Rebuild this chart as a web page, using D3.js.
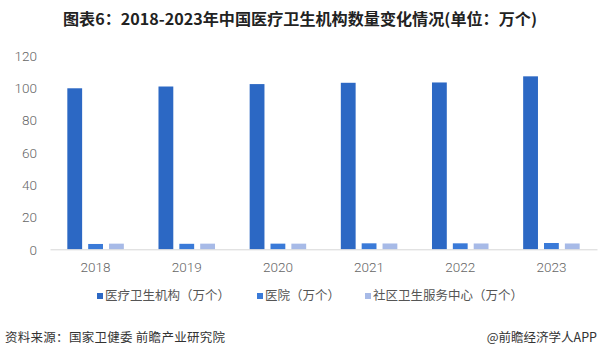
<!DOCTYPE html>
<html><head><meta charset="utf-8">
<script src="https://cdn.jsdelivr.net/npm/d3@7"></script>
<style>
html,body{margin:0;padding:0;background:#fff;}
svg{display:block;}
</style></head>
<body>
<svg id="chart" width="601" height="358"></svg>
<script>
const years = ["2018","2019","2020","2021","2022","2023"];
const seriesNames = ["医疗卫生机构（万个）","医院（万个）","社区卫生服务中心（万个）"];
const institutions = [99.7, 100.8, 102.3, 103.1, 103.3, 107.1];
const hospitals = [3.3, 3.4, 3.5, 3.7, 3.7, 3.9];
const communityCenters = [3.5, 3.5, 3.5, 3.6, 3.6, 3.6];
const yTicks = [0, 20, 40, 60, 80, 100, 120];
const colors = ["#2c68c4", "#3a7ad8", "#a7bae7"];

const svg = d3.select("#chart");
const x0 = d3.scaleBand().domain(years).range([50, 597]).paddingInner(0.38).paddingOuter(0.19);
const x1 = d3.scaleBand().domain(d3.range(3)).range([0, x0.bandwidth()]).paddingInner(0.29);
const y = d3.scaleLinear().domain([0, 120]).range([249.3, 55.5]);

const data = years.map((yr, i) => ({year: yr, vals: [institutions[i], hospitals[i], communityCenters[i]]}));

// title
svg.append("text").attr("x", 300).attr("y", 25).attr("text-anchor", "middle")
  .attr("font-family", "'Noto Sans CJK SC', sans-serif").attr("font-weight", "bold")
  .attr("font-size", 15.5).attr("fill", "#222")
  .attr("textLength", 474).attr("lengthAdjust", "spacingAndGlyphs")
  .text("图表6：2018-2023年中国医疗卫生机构数量变化情况(单位：万个)");

// y axis labels
const yAxis = d3.axisLeft(y).tickValues(yTicks).tickSize(0).tickPadding(0);
const ya = svg.append("g").attr("transform", "translate(37,0)").call(yAxis);
ya.select(".domain").remove();
ya.selectAll("text").attr("font-family", "Roboto, 'Noto Sans', sans-serif").attr("font-size", 13.5)
  .attr("font-weight", 300).attr("fill", "#666").attr("dy", "0.35em");

// bars
const g = svg.append("g");
g.selectAll("g.grp").data(data).join("g").attr("class", "grp")
  .attr("transform", d => `translate(${x0(d.year)},0)`)
  .selectAll("rect").data(d => d.vals.map((v, k) => ({v, k}))).join("rect")
  .attr("x", d => x1(d.k)).attr("width", x1.bandwidth())
  .attr("y", d => y(d.v)).attr("height", d => y(0) - y(d.v))
  .attr("fill", d => colors[d.k]);

// x axis
const xAxis = d3.axisBottom(x0).tickSize(0).tickPadding(0);
const xa = svg.append("g").attr("transform", `translate(0,${y(0)})`).call(xAxis);
xa.select(".domain").attr("stroke", "#d6d6d6").attr("stroke-width", 1);
xa.selectAll("text").attr("font-family", "Roboto, 'Noto Sans', sans-serif").attr("font-size", 13.5)
  .attr("font-weight", 300).attr("fill", "#666").attr("y", 18).attr("dy", "0.35em");

// legend
const legendX = [97, 257, 365];
const lg = svg.append("g");
seriesNames.forEach((s, i) => {
  lg.append("rect").attr("x", legendX[i]).attr("y", 293).attr("width", 6).attr("height", 6).attr("fill", colors[i]);
  lg.append("text").attr("x", legendX[i] + 8).attr("y", 296).attr("dy", "0.35em")
    .attr("font-family", "'Noto Sans CJK SC', sans-serif").attr("font-size", 12.5).attr("fill", "#555").text(s);
});

// footer
svg.append("text").attr("x", 5).attr("y", 338).attr("dy", "0.35em")
  .attr("font-family", "'Noto Sans CJK SC', sans-serif").attr("font-size", 12.5).attr("fill", "#333")
  .attr("textLength", 220).attr("lengthAdjust", "spacing")
  .text("资料来源：国家卫健委 前瞻产业研究院");
svg.append("text").attr("x", 597).attr("y", 338).attr("dy", "0.35em").attr("text-anchor", "end")
  .attr("font-family", "'Noto Sans CJK SC', sans-serif").attr("font-size", 12.5).attr("fill", "#333")
  .text("@前瞻经济学人APP");
</script>
</body></html>
